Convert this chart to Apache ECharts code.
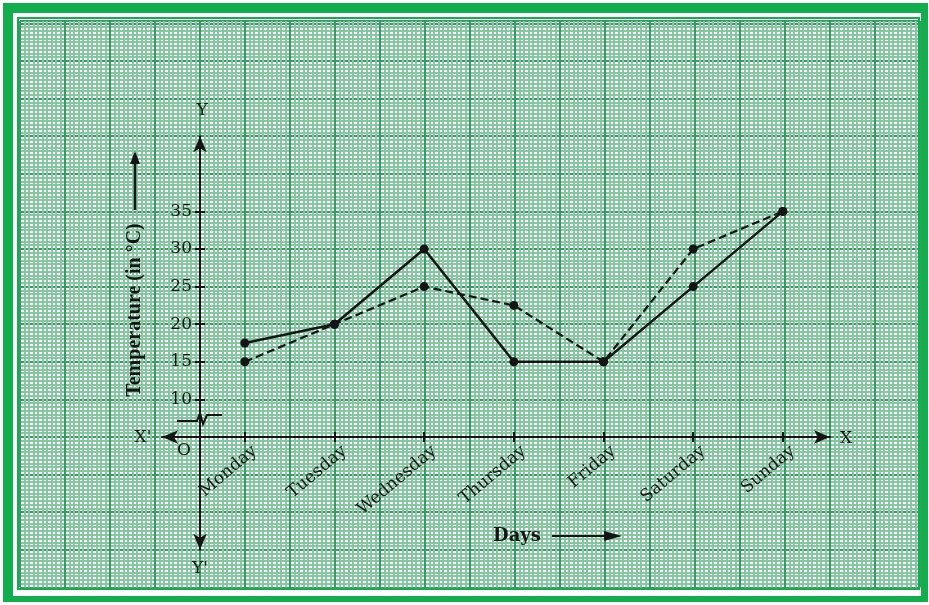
<!DOCTYPE html>
<html>
<head>
<meta charset="utf-8">
<style>
html,body{margin:0;padding:0;background:#fff;}
#chart{width:929px;height:605px;}
</style>
<script src="https://cdn.jsdelivr.net/npm/echarts@6/dist/echarts.min.js"></script>
</head>
<body>
<div id="chart"></div>
<script>
// ---- data ----
const days = ['Monday', 'Tuesday', 'Wednesday', 'Thursday', 'Friday', 'Saturday', 'Sunday'];
const solidTemps = [17.5, 20, 30, 15, 15, 25, 35];
const dashedTemps = [15, 20, 25, 22.5, 15, 30, 35];
const yTickValues = [10, 15, 20, 25, 30, 35];

const chart = echarts.init(document.getElementById('chart'), null, {renderer: 'canvas'});

const GREEN = '#12ae4e';
const serif = 'DejaVu Serif';
const INK = '#151515';
const plotTop = 136.2, plotBottom = 55.2;
const axisBottom = 168; // x-axis at y=437
const plotLeft = 200, plotRight = 101.3;
const MAJOR = {color: '#359d63', width: 2};
const MINOR = {color: '#86c6a0', width: 2};

const option = {
  backgroundColor: '#ffffff',
  animation: false,
  grid: [
    {left: plotLeft, right: plotRight, top: plotTop, bottom: plotBottom},          // 0 plot + y axis
    {left: plotLeft, right: plotRight, top: plotTop, bottom: axisBottom},          // 1 x ticks
    {left: 162, right: 99, top: plotTop, bottom: axisBottom},                      // 2 x axis line
    {left: 20, right: 9, top: 21, bottom: 17.6},                                   // 3 graph paper
    {left: plotLeft + 10, right: plotRight - 10, top: plotTop, bottom: axisBottom} // 4 x labels
  ],
  xAxis: [
    {gridIndex: 0, type: 'category', data: days, boundaryGap: true, show: false},
    {gridIndex: 1, type: 'category', data: days, boundaryGap: true, position: 'bottom', z: 5,
      axisLine: {show: false},
      axisTick: {show: true, alignWithLabel: true, length: 5, inside: false, lineStyle: {color: INK, width: 2}},
      axisLabel: {show: false}, splitLine: {show: false}},
    {gridIndex: 1, type: 'category', data: days, boundaryGap: true, position: 'bottom', z: 5,
      axisLine: {show: false},
      axisTick: {show: true, alignWithLabel: true, length: 5, inside: true, lineStyle: {color: INK, width: 2}},
      axisLabel: {show: false}, splitLine: {show: false}},
    {gridIndex: 2, type: 'value', min: 0, max: 1, position: 'bottom', z: 5,
      axisLine: {show: true, onZero: false, symbol: ['arrow', 'arrow'], symbolSize: [10, 16],
        lineStyle: {color: INK, width: 2}},
      axisTick: {show: false}, axisLabel: {show: false}, splitLine: {show: false}},
    {gridIndex: 3, type: 'value', min: -4, max: 16, interval: 1, z: 0,
      axisLine: {show: false}, axisTick: {show: false}, axisLabel: {show: false},
      splitLine: {show: true, lineStyle: MAJOR},
      minorTick: {show: false, splitNumber: 10},
      minorSplitLine: {show: true, lineStyle: MINOR}},
    {gridIndex: 4, type: 'category', data: days, boundaryGap: true, position: 'bottom', z: 5,
      axisLine: {show: false}, axisTick: {show: false},
      axisLabel: {show: true, rotate: 40, margin: 12, color: INK, fontFamily: serif, fontSize: 17, interval: 0},
      splitLine: {show: false}}
  ],
  yAxis: [
    {gridIndex: 0, type: 'value', min: -10, max: 45, interval: 5, position: 'left', z: 5,
      axisLine: {show: true, onZero: false, symbol: ['arrow', 'arrow'], symbolSize: [10, 16],
        lineStyle: {color: INK, width: 2}},
      axisTick: {show: true, inside: false, length: 5, customValues: yTickValues, lineStyle: {color: INK, width: 2}},
      axisLabel: {show: true, margin: 8, customValues: yTickValues, color: INK, fontFamily: serif, fontSize: 17},
      splitLine: {show: false}},
    {gridIndex: 0, type: 'value', min: -10, max: 45, interval: 5, position: 'left', z: 5,
      axisLine: {show: false, onZero: false},
      axisTick: {show: true, inside: true, length: 5, customValues: yTickValues, lineStyle: {color: INK, width: 2}},
      axisLabel: {show: false}, splitLine: {show: false}},
    {gridIndex: 1, type: 'value', show: false},
    {gridIndex: 2, type: 'value', show: false},
    {gridIndex: 3, type: 'value', min: -4, max: 11.064, interval: 1, z: 0,
      axisLine: {show: false}, axisTick: {show: false}, axisLabel: {show: false},
      splitLine: {show: true, lineStyle: MAJOR},
      minorTick: {show: false, splitNumber: 10},
      minorSplitLine: {show: true, lineStyle: MINOR}},
    {gridIndex: 4, type: 'value', show: false}
  ],
  series: [
    {type: 'line', name: 'solid', xAxisIndex: 0, yAxisIndex: 0, data: solidTemps, z: 10,
      symbol: 'circle', symbolSize: 9, itemStyle: {color: INK},
      lineStyle: {color: INK, width: 2.5, type: 'solid'}},
    {type: 'line', name: 'dashed', xAxisIndex: 0, yAxisIndex: 0, data: dashedTemps, z: 10,
      symbol: 'circle', symbolSize: 9, itemStyle: {color: INK},
      lineStyle: {color: INK, width: 2.2, type: [8, 4]}}
  ],
  graphic: [
    // frame
    {type: 'rect', shape: {x: 3, y: 3, width: 925, height: 10}, style: {fill: GREEN}, z: 100},
    {type: 'rect', shape: {x: 3, y: 596, width: 925, height: 6}, style: {fill: GREEN}, z: 100},
    {type: 'rect', shape: {x: 3, y: 3, width: 10, height: 599}, style: {fill: GREEN}, z: 100},
    {type: 'rect', shape: {x: 921, y: 3, width: 7, height: 599}, style: {fill: GREEN}, z: 100},
    {type: 'rect', shape: {x: 18, y: 18, width: 901, height: 571}, style: {fill: null, stroke: GREEN, lineWidth: 2}, z: 100},
    // axis break
    {type: 'polyline', shape: {points: [[177, 421], [197, 421], [200, 413], [203, 424], [207, 415], [222, 415]]},
      style: {stroke: INK, lineWidth: 2, fill: null}, z: 50},
    // letters
    {type: 'text', x: 202, y: 111, style: {text: 'Y', font: '17px "DejaVu Serif"', fill: INK, align: 'center', verticalAlign: 'middle'}, z: 50},
    {type: 'text', x: 200, y: 569, style: {text: "Y'", font: '17px "DejaVu Serif"', fill: INK, align: 'center', verticalAlign: 'middle'}, z: 50},
    {type: 'text', x: 846, y: 439, style: {text: 'X', font: '17px "DejaVu Serif"', fill: INK, align: 'center', verticalAlign: 'middle'}, z: 50},
    {type: 'text', x: 143, y: 438, style: {text: "X'", font: '17px "DejaVu Serif"', fill: INK, align: 'center', verticalAlign: 'middle'}, z: 50},
    {type: 'text', x: 184, y: 451, style: {text: 'O', font: '17px "DejaVu Serif"', fill: INK, align: 'center', verticalAlign: 'middle'}, z: 50},
    // y axis title + arrow
    {type: 'text', x: 135, y: 310, rotation: Math.PI / 2,
      style: {text: 'Temperature (in °C)', font: 'bold 20px "Liberation Serif"', fill: INK, align: 'center', verticalAlign: 'middle'}, z: 50},
    {type: 'line', shape: {x1: 135, y1: 210, x2: 135, y2: 160}, style: {stroke: INK, lineWidth: 2.5}, z: 50},
    {type: 'polygon', shape: {points: [[135, 151], [130, 164], [140, 164]]}, style: {fill: INK}, z: 50},
    // x axis title + arrow
    {type: 'text', x: 517, y: 536, style: {text: 'Days', font: 'bold 18px "DejaVu Serif"', fill: INK, align: 'center', verticalAlign: 'middle'}, z: 50},
    {type: 'line', shape: {x1: 552, y1: 536, x2: 610, y2: 536}, style: {stroke: INK, lineWidth: 2}, z: 50},
    {type: 'polygon', shape: {points: [[622, 536], [604, 531], [604, 541]]}, style: {fill: INK}, z: 50}
  ]
};
chart.setOption(option);
</script>
</body>
</html>
